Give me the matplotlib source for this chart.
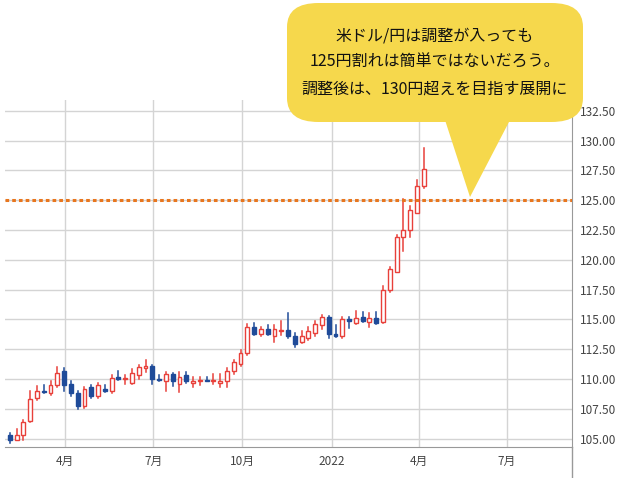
import matplotlib
matplotlib.use("Agg")
import matplotlib.pyplot as plt
import matplotlib.dates as mdates
from matplotlib.patches import FancyBboxPatch, Polygon
import numpy as np
import pandas as pd

plt.rcParams["font.family"] = "Noto Sans CJK JP"

start_date = "2021-02-03"
opens  = [105.3,104.9,105.3,106.5,108.4,109.0,108.8,109.5,110.7,109.6,108.8,107.7,109.3,108.6,109.2,109.0,110.2,110.0,109.7,110.3,110.9,111.1,110.0,109.8,110.4,109.6,110.3,109.7,109.8,109.9,109.8,109.7,109.8,110.7,111.3,112.2,114.4,113.8,114.2,113.6,114.0,114.1,113.6,113.1,113.4,113.9,114.5,115.2,113.8,113.6,115.0,114.7,115.2,114.8,115.1,114.8,117.5,119.0,121.9,122.5,123.9,126.2]
highs  = [105.5,105.8,106.6,109.0,109.4,109.5,109.8,111.0,110.9,109.8,109.0,109.3,109.5,109.7,109.5,110.3,110.7,110.3,110.8,111.2,111.6,111.2,110.3,110.6,110.5,110.6,110.6,110.2,110.2,110.2,110.4,110.4,110.9,111.6,112.4,114.6,114.7,114.4,114.5,114.5,114.9,115.5,113.9,114.0,114.4,114.9,115.4,115.3,114.5,115.2,115.2,115.7,115.6,115.5,115.6,117.8,119.4,122.1,125.1,124.5,126.7,129.4]
lows   = [104.6,104.9,104.9,106.4,108.2,108.8,108.7,109.3,109.0,108.6,107.5,107.6,108.4,108.4,108.9,108.8,109.9,109.6,109.6,110.0,110.6,109.6,109.8,109.0,109.4,108.9,109.7,109.3,109.5,109.8,109.6,109.3,109.3,110.4,111.1,112.0,113.7,113.6,113.7,113.1,113.7,113.4,112.7,113.0,113.3,113.6,114.2,113.4,113.5,113.4,114.3,114.6,114.8,114.4,114.6,114.7,117.3,119.0,120.7,121.9,123.9,126.0]
closes = [104.9,105.3,106.4,108.3,109.0,108.9,109.5,110.5,109.5,108.8,107.7,109.2,108.6,109.5,109.0,110.1,110.0,110.1,110.5,111.0,111.1,110.0,109.9,110.4,109.8,110.2,109.8,109.8,109.9,109.8,109.9,109.8,110.7,111.4,112.2,114.4,113.8,114.2,113.8,114.2,114.1,113.6,112.9,113.6,114.0,114.6,115.2,113.8,113.6,115.0,114.9,115.1,114.9,115.1,114.7,117.5,119.2,121.9,122.5,124.2,126.2,127.6]
ref_level = 125.0
yticks = [105.0,107.5,110.0,112.5,115.0,117.5,120.0,122.5,125.0,127.5,130.0,132.5]
xtick_dates = ["2021-04-01","2021-07-01","2021-10-01","2022-01-01","2022-04-01","2022-07-01"]
xtick_labels = ["4月","7月","10月","2022","4月","7月"]
bubble_text = "米ドル/円は調整が入っても\n125円割れは簡単ではないだろう。\n調整後は、130円超えを目指す展開に"

RED = "#E8403A"; BLUE = "#1F4B99"; ORANGE = "#E8761E"
dates = pd.date_range(start_date, periods=len(opens), freq="7D")
x = mdates.date2num(dates)

fig = plt.figure(figsize=(6.3, 4.78), dpi=100)
ax = fig.add_axes([5/630, 31/478, 567/630, 347/478])
w = 4.0
for xi, o, h, l, c in zip(x, opens, highs, lows, closes):
    up = c >= o
    col = RED if up else BLUE
    lo_b, hi_b = min(o, c), max(o, c)
    ax.plot([xi, xi], [l, lo_b], color=col, lw=1.1, zorder=3)
    ax.plot([xi, xi], [hi_b, h], color=col, lw=1.1, zorder=3)
    hgt = max(hi_b - lo_b, 0.06)
    ax.add_patch(plt.Rectangle((xi - w/2, lo_b), w, hgt, facecolor="white" if up else BLUE,
                               edgecolor=col, lw=1.0, zorder=4))
ax.axhline(ref_level, color=ORANGE, lw=2.2, ls=(0, (1.2, 1.0)), zorder=5)

ax.set_xlim(mdates.date2num(pd.Timestamp("2021-01-29")), mdates.date2num(pd.Timestamp("2022-09-06")))
ax.set_ylim(104.3, 133.4)
ax.yaxis.tick_right()
ax.set_yticks(yticks)
ax.set_yticklabels([f"{v:.2f}" for v in yticks], fontsize=8.5, color="#444444")
ax.set_xticks(mdates.date2num(pd.to_datetime(xtick_dates)))
ax.set_xticklabels(xtick_labels, fontsize=8.5, color="#444444")
ax.tick_params(length=0, pad=6)
ax.grid(True, color="#d4d4d4", lw=1)
for s in ["top", "left"]:
    ax.spines[s].set_visible(False)
ax.spines["bottom"].set_color("#999999")
ax.spines["right"].set_color("#999999")
fig.add_artist(plt.Line2D([572/630, 572/630], [0, 31/478], color="#999999", lw=1))

# speech bubble
bx0, by0, bx1, by1 = 287/630, 1-122/478, 583/630, 1-3/478
fig.add_artist(FancyBboxPatch((bx0, by0), bx1-bx0, by1-by0,
               boxstyle="round,pad=0,rounding_size=0.05", transform=fig.transFigure,
               facecolor="#F6D84C", edgecolor="none", zorder=10))
fig.add_artist(Polygon([(445/630, 1-120/478), (510/630, 1-120/478), (470/630, 1-197/478)],
               closed=True, transform=fig.transFigure, facecolor="#F6D84C", edgecolor="none", zorder=10))
fig.text((bx0+bx1)/2, (by0+by1)/2, bubble_text, ha="center", va="center", fontsize=11.5,
         linespacing=1.75, color="#111111", zorder=11)

fig.savefig("out.png", dpi=100)
